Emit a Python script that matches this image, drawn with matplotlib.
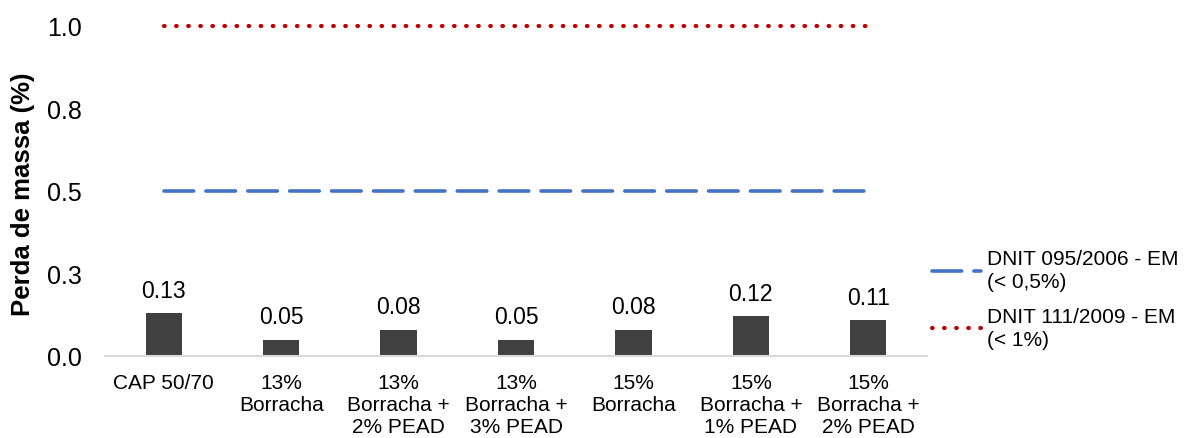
import matplotlib
matplotlib.use("Agg")
import matplotlib.pyplot as plt
import numpy as np

plt.rcParams['font.family'] = ['Liberation Sans', 'DejaVu Sans']

categories = [
    "CAP 50/70",
    "13%\nBorracha",
    "13%\nBorracha +\n2% PEAD",
    "13%\nBorracha +\n3% PEAD",
    "15%\nBorracha",
    "15%\nBorracha +\n1% PEAD",
    "15%\nBorracha +\n2% PEAD",
]
mass_loss = [0.13, 0.05, 0.08, 0.05, 0.08, 0.12, 0.11]
limit_095 = [0.5] * len(categories)
limit_111 = [1.0] * len(categories)
limit_labels = ["DNIT 095/2006 - EM\n(< 0,5%)", "DNIT 111/2009 - EM\n(< 1%)"]
y_ticks = [0.0, 0.25, 0.5, 0.75, 1.0]
y_tick_labels = ["0.0", "0.3", "0.5", "0.8", "1.0"]

W, H = 1189, 439
fig = plt.figure(figsize=(W / 100, H / 100), dpi=100)
ax = fig.add_axes([105 / W, (H - 357) / H, (927 - 105) / W, (357 - 27) / H])

x = np.arange(len(categories))
bars = ax.bar(x, mass_loss, width=0.31, color="#404040", zorder=2)
for xi, v in zip(x, mass_loss):
    ax.annotate(f"{v:.2f}", (xi, v), xytext=(0, 8), textcoords="offset points",
                ha="center", va="bottom", fontsize=16.5, color="#000000")

l1, = ax.plot(x, limit_095, color="#4472C4", lw=2.6,
              linestyle=(0, (8.2, 3.4)), dash_capstyle="round",
              solid_capstyle="round", clip_on=False, zorder=3)
l2, = ax.plot(x, limit_111, color="#C00000", lw=3.0,
              linestyle=(0, (0.15, 2.75)), dash_capstyle="round",
              clip_on=False, zorder=3)

ax.set_xlim(-0.5, len(categories) - 0.5)
ax.set_ylim(0, 1.0)
ax.set_xticks(x)
ax.set_xticklabels(categories, fontsize=15)
ax.set_yticks(y_ticks)
ax.set_yticklabels(y_tick_labels, fontsize=18)
ax.tick_params(axis="both", length=0)
ax.tick_params(axis="x", pad=12)
ax.tick_params(axis="y", pad=17)

for side in ("top", "right", "left"):
    ax.spines[side].set_visible(False)
ax.spines["bottom"].set_color("#D9D9D9")
ax.spines["bottom"].set_linewidth(1.5)

fig.text(23 / W, (H - 194) / H, "Perda de massa (%)", rotation=90,
         fontsize=18.5, fontweight="bold", ha="center", va="center")

leg = fig.legend([l1, l2], limit_labels, loc="center left",
                 bbox_to_anchor=(932 / W, (H - 300) / H), frameon=False,
                 fontsize=15, handlelength=2.35, handletextpad=0.3,
                 labelspacing=0.75, borderpad=0, borderaxespad=0)
for t in leg.get_texts():
    t.set_linespacing(1.25)

fig.savefig("out.png", dpi=100)
